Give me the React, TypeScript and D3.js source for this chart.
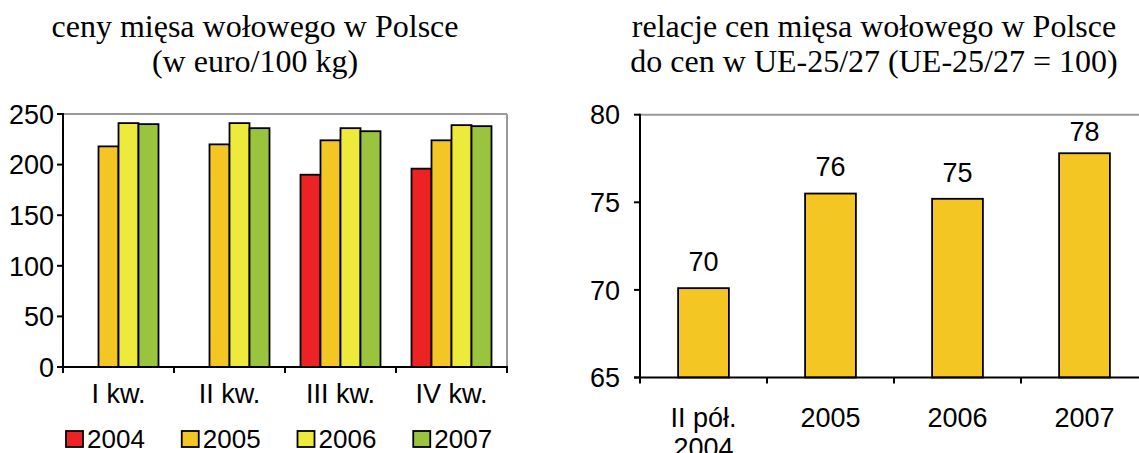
import React from 'react';
import * as d3 from 'd3';

// left chart: prices of beef in Poland (euro / 100 kg)
const quarters = ['I kw.', 'II kw.', 'III kw.', 'IV kw.'];
const years = ['2004', '2005', '2006', '2007'];
const prices2004 = [null, null, 190, 196];
const prices2005 = [218, 220, 224, 224];
const prices2006 = [241, 241, 236, 239];
const prices2007 = [240, 236, 233, 238];
const priceTicks = [0, 50, 100, 150, 200, 250];

// right chart: relation of Polish prices to EU-25/27 prices
const periods = [['II pół.', '2004'], ['2005'], ['2006'], ['2007']];
const relation = [70.1, 75.5, 75.2, 77.8];
const relationTicks = [65, 70, 75, 80];

const yearColors = ['#ED2224', '#F4C623', '#EEEA3C', '#9AC43E'];
const barColor = '#F4C623';
const sans = 'Arial, "Liberation Sans", sans-serif';
const serif = '"Times New Roman", "Liberation Serif", serif';
const fs = 27;
const titleFs = 32;

const PriceChart = () => {
  const series = [prices2004, prices2005, prices2006, prices2007];
  const left = 63, right = 507, top = 114, bottom = 367;
  const x = d3.scaleBand().domain(quarters).range([left, right]);
  const groupW = 80;
  const xi = d3.scaleBand().domain(years).range([0, groupW]);
  const y = d3.scaleLinear().domain([0, 250]).range([bottom, top]);
  const legendX = d3.scaleBand().domain(years).range([66, 529]);

  return (
    <g>
      <text x={255} y={37} textAnchor="middle" fontFamily={serif} fontSize={titleFs}>ceny mięsa wołowego w Polsce</text>
      <text x={255} y={72} textAnchor="middle" fontFamily={serif} fontSize={titleFs}>(w euro/100 kg)</text>

      {/* plot frame (top & right in grey) */}
      <line x1={left} x2={right} y1={top} y2={top} stroke="#999" strokeWidth={2} />
      <line x1={right} x2={right} y1={top} y2={bottom} stroke="#999" strokeWidth={2} />

      {quarters.map((q, qi) =>
        series.map((s, si) => {
          const v = s[qi];
          if (v == null) return null;
          const bx = x(q)! + (x.bandwidth() - groupW) / 2 + xi(years[si])!;
          return (
            <rect key={q + si} x={bx} y={y(v)} width={xi.bandwidth()} height={bottom - y(v)}
              fill={yearColors[si]} stroke="#000" strokeWidth={1.8} />
          );
        })
      )}

      {/* axes */}
      <line x1={left} x2={left} y1={top - 1} y2={bottom} stroke="#000" strokeWidth={2} />
      <line x1={left - 6} x2={right + 1} y1={bottom} y2={bottom} stroke="#000" strokeWidth={2} />
      {priceTicks.map(t => (
        <g key={t}>
          <line x1={left - 6} x2={left} y1={y(t)} y2={y(t)} stroke="#000" strokeWidth={2} />
          <text x={54} y={y(t)} dy="0.36em" textAnchor="end" fontFamily={sans} fontSize={fs}>{t}</text>
        </g>
      ))}
      {quarters.map((q, i) => (
        <g key={q}>
          <line x1={x(q)!} x2={x(q)!} y1={bottom} y2={bottom + 6} stroke="#000" strokeWidth={2} />
          {i === quarters.length - 1 && (
            <line x1={right} x2={right} y1={bottom} y2={bottom + 6} stroke="#000" strokeWidth={2} />
          )}
          <text x={x(q)! + x.bandwidth() / 2} y={403} textAnchor="middle" fontFamily={sans} fontSize={fs}>{q}</text>
        </g>
      ))}

      {/* legend */}
      {years.map((yr, i) => (
        <g key={yr}>
          <rect x={legendX(yr)!} y={431} width={17} height={16} fill={yearColors[i]} stroke="#000" strokeWidth={1.8} />
          <text x={legendX(yr)! + 21} y={447.5} fontFamily={sans} fontSize={26}>{yr}</text>
        </g>
      ))}
    </g>
  );
};

const RelationChart = () => {
  const left = 640, right = 1148, top = 114.7, bottom = 377.5;
  const keys = periods.map(p => p.join(' '));
  const x = d3.scaleBand().domain(keys).range([left, right]);
  const y = d3.scaleLinear().domain([65, 80]).range([bottom, top]);
  const barW = x.bandwidth() * 0.4;

  return (
    <g>
      <text x={874} y={37} textAnchor="middle" fontFamily={serif} fontSize={titleFs}>relacje cen mięsa wołowego w Polsce</text>
      <text x={874} y={72} textAnchor="middle" fontFamily={serif} fontSize={titleFs}>do cen w UE-25/27 (UE-25/27 = 100)</text>

      <line x1={left} x2={right} y1={top} y2={top} stroke="#999" strokeWidth={2} />

      {relation.map((v, i) => {
        const cx = x(keys[i])! + x.bandwidth() / 2;
        const ly = Math.max(y(v) - 27, top + 17);
        return (
          <g key={keys[i]}>
            <rect x={cx - barW / 2} y={y(v)} width={barW} height={bottom - y(v)}
              fill={barColor} stroke="#000" strokeWidth={1.8} />
            <text x={cx} y={ly} dy="0.36em" textAnchor="middle" fontFamily={sans} fontSize={fs}>{Math.round(v)}</text>
          </g>
        );
      })}

      <line x1={left} x2={left} y1={top - 1} y2={bottom} stroke="#000" strokeWidth={2} />
      <line x1={left - 6} x2={right} y1={bottom} y2={bottom} stroke="#000" strokeWidth={2} />
      {relationTicks.map(t => (
        <g key={t}>
          <line x1={left - 6} x2={left} y1={y(t)} y2={y(t)} stroke="#000" strokeWidth={2} />
          <text x={620} y={y(t)} dy="0.36em" textAnchor="end" fontFamily={sans} fontSize={fs}>{t}</text>
        </g>
      ))}
      {periods.map((p, i) => (
        <g key={keys[i]}>
          <line x1={x(keys[i])!} x2={x(keys[i])!} y1={bottom} y2={bottom + 6} stroke="#000" strokeWidth={2} />
          {p.map((line, li) => (
            <text key={li} x={x(keys[i])! + x.bandwidth() / 2} y={427 + li * 30} textAnchor="middle"
              fontFamily={sans} fontSize={fs}>{line}</text>
          ))}
        </g>
      ))}
    </g>
  );
};

export default function App() {
  return (
    <svg width={1139} height={453} style={{ position: 'absolute', left: 0, top: 0, background: '#fff' }}>
      <PriceChart />
      <RelationChart />
    </svg>
  );
}
